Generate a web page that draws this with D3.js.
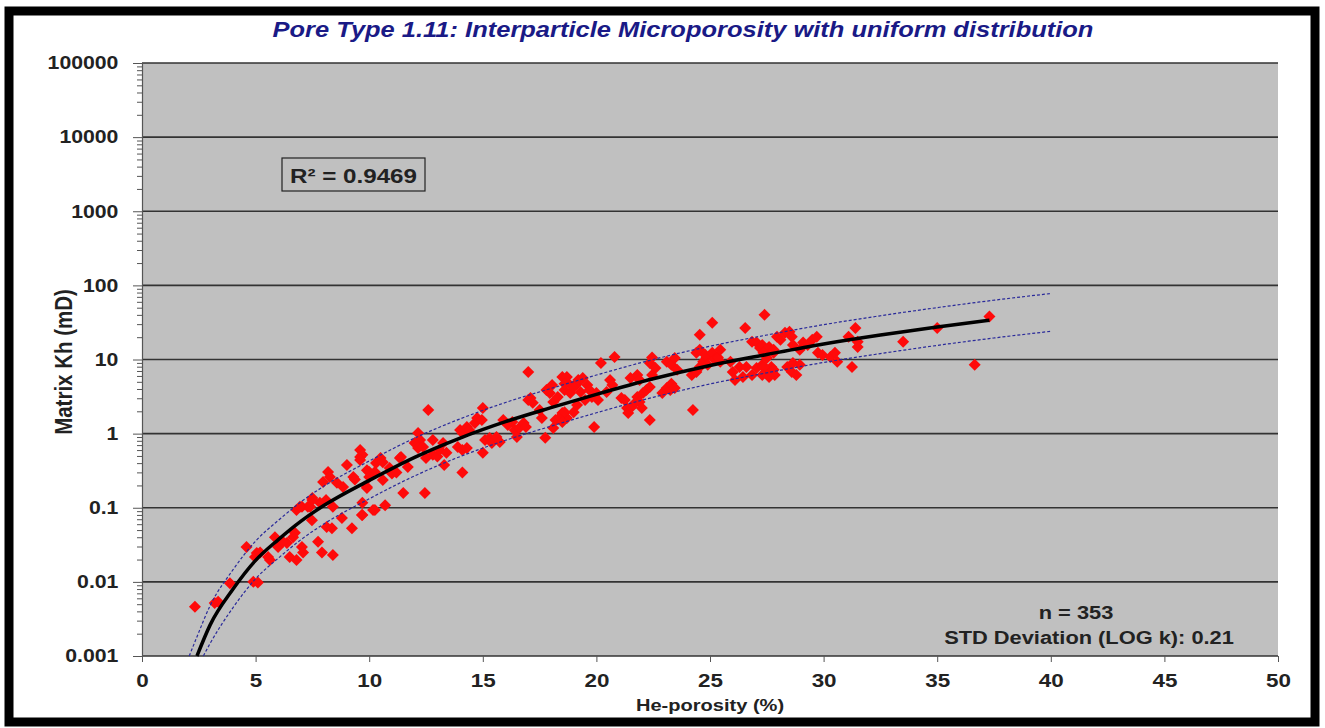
<!DOCTYPE html>
<html>
<head>
<meta charset="utf-8">
<script src="https://cdnjs.cloudflare.com/ajax/libs/d3/7.8.5/d3.min.js"></script>
<style>
    body { margin: 0; background: #ffffff; }
    text { font-family: "Liberation Sans", Arial, sans-serif; font-weight: bold; }
</style>
</head>
<body>
<div id="chartArea"></div>
<script>
///////////////////////////// DATA /////////////////////////////////////

// He-porosity (%) / Matrix Kh (mD) samples
var samples = [
    [2.33, 0.0046], [3.2, 0.0052], [3.35, 0.0054], [3.87, 0.0096], [4.9, 0.0100], [5.1, 0.0098],
    [4.6, 0.0296], [5.05, 0.0245], [4.97, 0.0217], [5.2, 0.025], [5.55, 0.0217], [5.63, 0.0198],
    [5.85, 0.040], [5.99, 0.0296], [6.38, 0.0335], [6.2, 0.0347], [6.65, 0.040], [6.73, 0.046],
    [6.5, 0.0217], [6.8, 0.0198], [7.04, 0.0296], [7.09, 0.025], [6.8, 0.093], [7.04, 0.103],
    [7.5, 0.135], [7.4, 0.103], [7.48, 0.068], [7.75, 0.0347], [7.92, 0.025], [8.4, 0.023],
    [8.13, 0.055], [8.36, 0.053], [8.8, 0.073], [9.24, 0.053], [9.68, 0.080], [10.17, 0.093],
    [8.1, 0.127], [7.83, 0.117], [8.4, 0.103], [7.97, 0.223], [8.19, 0.304], [8.27, 0.26],
    [8.58, 0.218], [8.85, 0.19], [9.02, 0.378], [9.3, 0.26], [9.37, 0.24], [9.6, 0.60],
    [9.6, 0.485], [9.9, 0.185], [10.0, 0.304], [10.25, 0.304], [7.5, 0.127], [7.3, 0.103],
    [6.95, 0.103],
    [9.7, 0.52], [9.6, 0.44], [9.9, 0.32], [10.0, 0.26], [9.9, 0.19], [10.5, 0.47], [10.3, 0.40],
    [10.6, 0.41], [10.6, 0.237], [10.9, 0.345], [11.0, 0.29], [11.2, 0.30], [11.4, 0.485],
    [11.35, 0.47], [11.7, 0.355], [11.5, 0.158], [12.45, 0.158], [10.25, 0.093], [10.7, 0.108],
    [9.7, 0.080], [9.7, 0.117], [12.15, 1.02], [12.24, 0.82], [12.0, 0.75], [12.15, 0.64],
    [12.37, 0.66], [12.6, 2.09], [12.5, 0.47], [12.8, 0.52], [13.0, 0.49], [12.8, 0.82],
    [13.1, 0.60], [13.25, 0.75], [13.4, 0.55], [13.3, 0.378], [14.0, 1.12], [14.1, 1.02],
    [14.3, 1.23], [14.4, 1.12], [14.65, 1.39], [14.75, 1.63], [14.96, 1.53], [15.0, 2.22],
    [13.9, 0.66], [14.1, 0.60], [14.3, 0.64], [14.1, 0.30], [15.0, 0.55], [15.1, 0.82],
    [15.3, 0.87], [15.4, 0.75], [15.6, 0.90], [15.75, 0.77], [15.9, 1.53], [16.1, 1.31],
    [16.3, 1.44], [16.4, 1.12], [16.5, 0.90], [16.6, 1.19], [16.8, 1.39], [16.9, 1.23],
    [17.0, 6.8], [17.1, 3.03], [17.6, 1.63], [17.75, 0.88], [17.5, 2.09], [17.8, 3.89],
    [18.05, 4.54], [17.95, 3.54], [18.1, 2.68], [18.3, 3.13], [18.1, 1.19], [18.2, 1.53],
    [18.5, 5.82], [18.7, 4.99], [18.6, 3.89], [18.85, 3.54], [19.0, 4.24], [19.15, 4.69],
    [18.5, 1.90], [18.7, 1.63], [19.0, 1.94], [19.15, 2.44], [17.0, 2.85], [17.2, 2.6],
    [18.4, 1.68], [18.6, 1.94], [18.5, 1.44], [18.7, 5.82], [18.6, 4.69], [18.97, 4.24],
    [19.2, 5.31], [19.4, 5.65], [19.3, 3.65], [19.6, 4.54], [19.7, 3.89], [19.5, 2.85],
    [19.8, 3.13], [20.0, 3.54], [20.07, 2.85], [19.9, 1.23], [20.2, 9.0], [20.8, 10.8],
    [20.45, 3.65], [20.6, 5.31], [20.7, 4.54], [21.1, 3.03], [21.25, 2.85], [21.35, 2.22],
    [21.4, 1.90], [21.55, 2.29], [21.7, 2.59], [21.8, 3.13], [21.9, 2.68], [22.0, 2.22],
    [22.05, 3.54], [22.2, 3.89], [21.5, 5.65], [21.8, 6.2], [21.9, 5.31], [22.35, 9.0],
    [22.6, 7.7], [22.45, 10.6], [22.35, 1.53], [22.35, 4.24], [22.45, 6.2], [22.9, 3.54],
    [23.1, 4.11], [23.25, 3.89], [23.3, 4.69], [23.45, 4.11], [23.1, 9.3], [23.3, 8.5],
    [23.45, 10.5], [23.55, 7.25], [24.25, 2.09], [24.2, 6.2], [24.4, 6.8], [24.55, 7.9],
    [24.7, 9.3], [24.85, 10.6], [24.4, 12.3], [24.55, 13.5], [24.8, 11.5], [25.1, 12.3],
    [25.2, 10.0], [25.35, 10.6], [25.45, 13.5], [24.55, 21.5], [25.1, 31.2], [24.9, 8.5],
    [25.45, 9.3], [25.9, 9.3], [26.0, 6.8], [26.1, 5.31], [26.3, 7.9], [26.45, 5.82],
    [26.55, 26.7], [26.85, 17.3], [27.05, 16.9], [27.2, 14.3], [27.3, 15.7], [27.5, 13.5],
    [27.6, 14.8], [27.8, 12.3], [27.4, 40], [26.6, 7.9], [26.85, 6.2], [27.05, 7.7],
    [27.3, 8.5], [27.5, 6.8], [27.7, 7.9],
    [27.35, 12.3], [27.5, 10.5], [27.8, 13.5], [27.95, 20.2], [28.1, 18.4], [28.3, 22.9],
    [28.5, 23.6], [28.6, 20.2], [28.65, 15.7], [28.95, 13.5], [29.1, 16.9], [29.3, 15.7],
    [29.5, 18.4], [29.7, 20.2], [29.75, 12.3], [29.95, 11.5], [30.3, 10.8], [30.5, 12.3],
    [30.6, 9.3], [27.35, 7.9], [27.8, 7.25], [27.85, 6.2], [28.4, 7.9], [28.6, 6.8],
    [28.65, 9.0], [28.95, 8.5], [28.8, 6.2], [27.3, 6.2], [27.6, 5.8], [31.4, 26.7],
    [31.1, 20.2], [31.5, 14.8], [31.5, 17.3], [31.25, 7.9], [33.5, 17.3], [35.0, 26.7],
    [36.65, 8.5], [37.3, 38]
];

// power trend line
var trendPhi = [2.42, 3, 4, 5, 6, 7, 8, 10, 12, 14, 16, 18, 20, 22.5, 25, 27.5, 30, 32.5, 35, 37.3];
var trendK = [0.001, 0.00263, 0.00794, 0.0195, 0.0372, 0.0661, 0.107, 0.234, 0.479, 0.871,
    1.45, 2.24, 3.39, 5.50, 8.32, 11.7, 16.2, 21.4, 27.5, 33.9];

// dashed envelope lines
var upperPhi = [2.08, 2.42, 3, 4, 5, 6, 7, 8, 10, 12, 14, 16, 18, 20, 22.5, 25, 27.5, 30, 32.5, 35, 37.5, 40];
var upperK = [0.001, 0.00182, 0.00479, 0.0145, 0.0355, 0.0676, 0.120, 0.195, 0.427, 0.871,
    1.58, 2.63, 4.07, 6.17, 10.0, 15.1, 21.4, 29.5, 38.9, 50.1, 63.1, 77.6];
var lowerPhi = [2.7, 3, 4, 5, 6, 7, 8, 10, 12, 14, 16, 18, 20, 22.5, 25, 27.5, 30, 32.5, 35, 37.5, 40];
var lowerK = [0.001, 0.00148, 0.00447, 0.011, 0.0209, 0.0372, 0.0603, 0.132, 0.269, 0.490,
    0.813, 1.26, 1.91, 3.09, 4.68, 6.61, 9.12, 12.0, 15.5, 19.5, 24.0];

var xTicks = [0, 5, 10, 15, 20, 25, 30, 35, 40, 45, 50];
var yTicks = [0.001, 0.01, 0.1, 1, 10, 100, 1000, 10000, 100000];
var yTickLabels = ["0.001", "0.01", "0.1", "1", "10", "100", "1000", "10000", "100000"];

var titleText = "Pore Type 1.11: Interparticle Microporosity with uniform distribution";
var xTitle = "He-porosity (%)";
var yTitle = "Matrix Kh (mD)";
var r2Text = "R² = 0.9469";
var statLines = ["n = 353", "STD Deviation (LOG k): 0.21"];

///////////////////////////// CHART SETUP /////////////////////////////////////

var W = 1325, H = 728,
    margin = { top: 63, right: 47, bottom: 72, left: 142 },
    width = W - margin.left - margin.right,
    height = H - margin.top - margin.bottom,
    sx = 1.18; // the picture is a little wider than tall, so text is stretched

var x = d3.scaleLinear().domain([0, 50]).range([0, width]),
    y = d3.scaleLog().domain([0.001, 100000]).range([height, 0]);

var svg = d3.select("#chartArea").append("svg")
    .attr("width", W)
    .attr("height", H);

// outer black frame
svg.append("rect")
    .attr("x", 9).attr("y", 11)
    .attr("width", 1306).attr("height", 711)
    .attr("fill", "none")
    .attr("stroke", "#000")
    .attr("stroke-width", 9);

var focus = svg.append("g")
    .attr("transform", "translate(" + margin.left + "," + margin.top + ")");

focus.append("rect")
    .attr("width", width)
    .attr("height", height)
    .attr("fill", "#c0c0c0");

// gridlines
focus.selectAll(".grid")
    .data(yTicks)
    .enter().append("line")
    .attr("class", "grid")
    .attr("x1", 0).attr("x2", width)
    .attr("y1", function(d) { return y(d); })
    .attr("y2", function(d) { return y(d); })
    .attr("stroke", "#333")
    .attr("stroke-width", 1.6);

// minor log ticks
var minor = [];
yTicks.slice(0, -1).forEach(function(d) {
    for (var m = 2; m < 10; m++) minor.push(d * m);
});

var yMinor = focus.append("g")
    .call(d3.axisLeft(y).tickValues(minor).tickSize(5).tickFormat(""));
yMinor.select(".domain").remove();
yMinor.selectAll("line").attr("stroke", "#555");

var yAxis = focus.append("g")
    .attr("class", "axis axis--y")
    .call(d3.axisLeft(y).tickValues(yTicks).tickSize(9).tickPadding(11)
        .tickFormat(function(d, i) { return yTickLabels[i]; }));

var xAxis = focus.append("g")
    .attr("class", "axis axis--x")
    .attr("transform", "translate(0," + height + ")")
    .call(d3.axisBottom(x).tickValues(xTicks).tickSize(6).tickPadding(12));

svg.selectAll(".axis .domain").attr("stroke", "#555").attr("stroke-width", 1.2);
svg.selectAll(".axis line").attr("stroke", "#555");
svg.selectAll(".axis text")
    .attr("fill", "#222")
    .style("font-family", "'Liberation Sans', Arial, sans-serif")
    .style("font-weight", "bold")
    .attr("transform", "scale(" + sx + ",1)");
yAxis.selectAll("text").style("font-size", "18px");
xAxis.selectAll("text").style("font-size", "19px");
xAxis.select(".domain").remove();

///////////////////////////// CURVES AND POINTS /////////////////////////////////////

var line = d3.line()
    .x(function(d) { return x(d[0]); })
    .y(function(d) { return y(d[1]); })
    .curve(d3.curveMonotoneX);

var upper = upperPhi.map(function(d, i) { return [d, upperK[i]]; }),
    lower = lowerPhi.map(function(d, i) { return [d, lowerK[i]]; }),
    trend = trendPhi.map(function(d, i) { return [d, trendK[i]]; });

focus.selectAll(".dots")
    .data(samples)
    .enter().append("path")
    .attr("class", "dots")
    .attr("d", d3.symbol().type(d3.symbolSquare).size(72))
    .attr("transform", function(d) {
        return "translate(" + x(d[0]) + "," + y(d[1]) + ") rotate(45)";
    })
    .attr("fill", "#ff0a0a");

[upper, lower].forEach(function(band) {
    focus.append("path")
        .datum(band)
        .attr("d", line)
        .attr("fill", "none")
        .attr("stroke", "#2a2a9a")
        .attr("stroke-width", 1.2)
        .attr("stroke-dasharray", "3,2");
});

focus.append("path")
    .datum(trend)
    .attr("d", line)
    .attr("fill", "none")
    .attr("stroke", "#000")
    .attr("stroke-width", 3.5);

///////////////////////////// TEXTS /////////////////////////////////////

function addText(px, py, txt, size, anchor, opts) {
    opts = opts || {};
    var g = svg.append("g")
        .attr("transform", "translate(" + px + "," + py + ")" + (opts.rotate ? " rotate(" + opts.rotate + ")" : ""));
    return g.append("text")
        .attr("transform", opts.rotate ? "scale(1," + sx + ")" : "scale(" + sx + ",1)")
        .attr("text-anchor", anchor)
        .style("font-size", size + "px")
        .style("font-style", opts.italic ? "italic" : "normal")
        .attr("fill", opts.color || "#222")
        .text(txt);
}

addText(683, 37, titleText, 21.6, "middle", { italic: true, color: "#1a1a86" });
addText(710, 711, xTitle, 17, "middle");
addText(72, 362, yTitle, 20.5, "middle", { rotate: -90 });

// R² box
svg.append("rect")
    .attr("x", 282).attr("y", 158)
    .attr("width", 143).attr("height", 33)
    .attr("fill", "#c0c0c0")
    .attr("stroke", "#222")
    .attr("stroke-width", 1.2);
addText(290, 183, r2Text, 20.5, "start");

var statX = [1076, 1089];
statLines.forEach(function(t, i) {
    addText(statX[i], 619 + i * 25, t, 18.5, "middle");
});
</script>
</body>
</html>
